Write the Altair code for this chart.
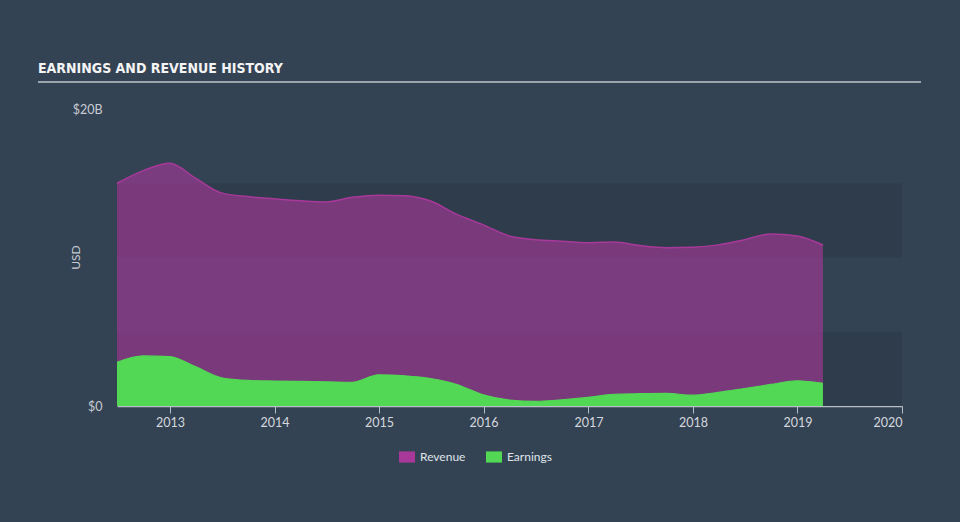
import altair as alt
import pandas as pd

# Quarterly dates (end of quarter)
dates = [
    "2012-06-30", "2012-09-30", "2012-12-31",
    "2013-03-31", "2013-06-30", "2013-09-30", "2013-12-31",
    "2014-03-31", "2014-06-30", "2014-09-30", "2014-12-31",
    "2015-03-31", "2015-06-30", "2015-09-30", "2015-12-31",
    "2016-03-31", "2016-06-30", "2016-09-30", "2016-12-31",
    "2017-03-31", "2017-06-30", "2017-09-30", "2017-12-31",
    "2018-03-31", "2018-06-30", "2018-09-30", "2018-12-31",
    "2019-03-31",
]
# Values in billions USD
revenue = [
    15.0, 15.85, 16.35,
    15.35, 14.35, 14.1, 13.95,
    13.82, 13.74, 14.05, 14.2,
    14.15, 13.8, 12.9, 12.2,
    11.45, 11.2, 11.1, 11.0,
    11.04, 10.8, 10.66, 10.69,
    10.85, 11.2, 11.58, 11.45,
    10.84,
]
earnings = [
    2.94, 3.37, 3.33,
    2.65, 1.9, 1.72, 1.68,
    1.66, 1.63, 1.6, 2.1,
    2.03, 1.85, 1.45, 0.75,
    0.40, 0.31, 0.42, 0.58,
    0.79, 0.83, 0.85, 0.73,
    0.92, 1.18, 1.45, 1.70,
    1.53,
]
band_low = [0, 10]
band_high = [5, 15]
year_ticks = [2013, 2014, 2015, 2016, 2017, 2018, 2019, 2020]

series = ["Revenue", "Earnings"]
colors = ["#a8399a", "#52d854"]

rev_df = pd.DataFrame({"date": dates, "value": revenue, "series": "Revenue"})
earn_df = pd.DataFrame({"date": dates, "value": earnings, "series": "Earnings"})
band_df = pd.DataFrame({"lo": band_low, "hi": band_high})
deco_df = pd.DataFrame({"k": [0]})

W, H = 785, 297

x_enc = alt.X(
    "date:T",
    scale=alt.Scale(domain=[{"year": 2012, "month": 6, "date": 30},
                            {"year": 2020, "month": 1, "date": 1}]),
    axis=alt.Axis(
        values=[{"year": y, "month": 1, "date": 1} for y in year_ticks],
        format="%Y", title=None, grid=False,
        domainColor="#b8bec6", domainWidth=1.5,
        tickColor="#b8bec6", tickSize=7, tickWidth=1,
        labelColor="#d4d8dd", labelFontSize=12.5, labelFont="Lato",
        labelPadding=3,
    ),
)
y_scale = alt.Scale(domain=[0, 20])
y_axis = alt.Axis(
    values=[0, 20],
    labelExpr="datum.value == 0 ? '$0' : '$' + datum.value + 'B'",
    title="USD", titleColor="#c8ccd2", titleFont="Lato", titleFontSize=12,
    titleFontWeight="normal", titleAngle=270, titleX=-42, titleY=148,
    titleAlign="center", titleBaseline="middle",
    grid=False, ticks=False, tickSize=0, domain=False,
    labelColor="#c8ccd2", labelFontSize=12.5, labelFont="Lato", labelPadding=15,
)
color_enc = alt.Color(
    "series:N",
    scale=alt.Scale(domain=series, range=colors),
    legend=alt.Legend(
        title=None, orient="none", direction="horizontal",
        legendX=282, legendY=340,
        symbolType="M-1,-0.7L1,-0.7L1,0.7L-1,0.7Z", symbolSize=256,
        symbolStrokeWidth=0, symbolOpacity=1,
        labelColor="#dfe3e8", labelFontSize=12, labelFont="Lato",
        labelOffset=5, columnPadding=20, padding=0,
    ),
)

bands = alt.Chart(band_df).mark_rect(color="#2f3c4b").encode(
    y=alt.Y("lo:Q", scale=y_scale, axis=y_axis),
    y2="hi:Q",
    x=alt.value(0),
    x2=alt.value(W),
)

rev = alt.Chart(rev_df).mark_area(
    interpolate="monotone", fillOpacity=0.62,
    line={"color": "#b43aa6", "strokeWidth": 1.5},
).encode(
    x=x_enc,
    y=alt.Y("value:Q", scale=y_scale, stack=None),
    color=color_enc,
)

earn = alt.Chart(earn_df).mark_area(
    interpolate="monotone", fillOpacity=1,
    line={"color": "#5ee35e", "strokeWidth": 1.2},
).encode(
    x=x_enc,
    y=alt.Y("value:Q", scale=y_scale, stack=None),
    color=color_enc,
)

underline = alt.Chart(deco_df).mark_rule(color="#9ea4ac", strokeWidth=2).encode(
    x=alt.value(-79), x2=alt.value(804), y=alt.value(-27),
)

chart = alt.layer(bands, rev, earn, underline).properties(
    width=W, height=H,
    title=alt.TitleParams(
        "EARNINGS AND REVENUE HISTORY",
        anchor="start", frame="group", dx=-79, offset=5,
        font="Liberation Sans Narrow, DejaVu Sans Condensed, Roboto Condensed, Roboto, sans-serif",
        fontSize=14, fontWeight="bold",
        color="#f4f4f4",
    ),
    padding={"left": 117, "top": 109, "right": 58, "bottom": 116},
    autosize=alt.AutoSizeParams(type="none"),
).configure(
    background="#344354",
).configure_view(stroke=None)

chart.save("out.html", embed_options={"renderer": "svg", "actions": False})
